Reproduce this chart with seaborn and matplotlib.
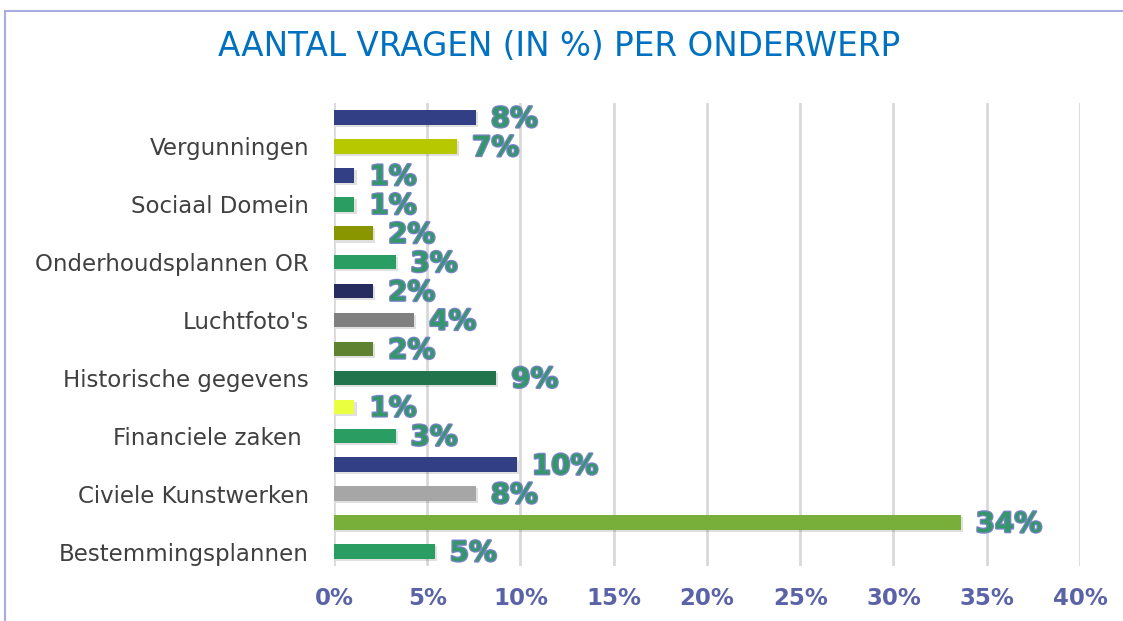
import numpy as np
import pandas as pd
import matplotlib
matplotlib.use("Agg")
import matplotlib.pyplot as plt
import matplotlib.patheffects as pe
from matplotlib.lines import Line2D
import seaborn as sns

# data (fractions, two bars per topic)
categories = ["Vergunningen", "Sociaal Domein", "Onderhoudsplannen OR", "Luchtfoto's",
              "Historische gegevens", "Financiele zaken ", "Civiele Kunstwerken",
              "Bestemmingsplannen"]
upper_vals = [0.076, 0.011, 0.021, 0.021, 0.021, 0.011, 0.098, 0.336]
lower_vals = [0.066, 0.011, 0.033, 0.043, 0.087, 0.033, 0.076, 0.054]
upper_colors = ["#333F84", "#333F84", "#8A9600", "#262B60", "#5E8230", "#EAFF3F", "#333F84", "#78AE3A"]
lower_colors = ["#B8C800", "#2A9D63", "#2A9D63", "#808080", "#21744C", "#2A9D63", "#A6A6A6", "#2A9D63"]
x_ticks = [0, 0.05, 0.10, 0.15, 0.20, 0.25, 0.30, 0.35, 0.40]

rows, vals, cols = [], [], []
for i, c in enumerate(categories):
    rows += [c + " a", c + " b"]
    vals += [upper_vals[i], lower_vals[i]]
    cols += [upper_colors[i], lower_colors[i]]
df = pd.DataFrame({"row": rows, "value": vals})

sns.set_style("white")
fig = plt.figure(figsize=(11.23, 6.21), dpi=100)
ax = fig.add_axes([0.2974, 0.0886, 0.6643, 0.7455])

sns.barplot(data=df, y="row", x="value", hue="row", palette=cols, legend=False,
            width=0.5, orient="h", saturation=1, linewidth=0, edgecolor="none",
            ax=ax, zorder=3)

for p in ax.patches:
    p.set_path_effects([pe.SimplePatchShadow(offset=(1.5, -1.5), alpha=0.12, shadow_rgbFace="k"),
                        pe.Normal()])

for p, v in zip(ax.patches, vals):
    y = p.get_y() + p.get_height() / 2
    t = ax.annotate(f"{int(v * 100 + 0.5)}%", xy=(p.get_width(), y), xytext=(15, -1.5),
                    textcoords="offset pixels", va="center", ha="left",
                    fontsize=20, fontweight="bold", color="#35966C", zorder=4)
    t.set_path_effects([pe.Stroke(linewidth=1.8, foreground="#7A82CA"), pe.Normal()])

ax.set_xlim(0, 0.40)
ax.set_xticks(x_ticks)
ax.set_xticklabels([f"{round(t * 100)}%" for t in x_ticks], fontsize=16.5,
                   fontweight="bold", color="#5B63A8")
ax.set_yticks(np.arange(1, 16, 2))
ax.set_yticklabels(categories, fontsize=16.5, color="#404040")
ax.tick_params(axis="y", length=0, pad=18)
ax.tick_params(axis="x", length=0, pad=15)
ax.set_xlabel("")
ax.set_ylabel("")
ax.xaxis.grid(True, color="#D9D9D9", linewidth=2, zorder=0)
ax.set_axisbelow(True)
sns.despine(ax=ax, left=True, bottom=True)

fig.text(0.498, 0.925, "AANTAL VRAGEN (IN %) PER ONDERWERP", ha="center", va="center",
         fontsize=23.5, color="#0070C0")

# chart frame (top and left edges visible)
fig.add_artist(Line2D([0.0045, 1], [0.982, 0.982], color="#A9ACE0", linewidth=1.5))
fig.add_artist(Line2D([0.0045, 0.0045], [0, 0.982], color="#A9ACE0", linewidth=1.5))

fig.savefig("out.png", dpi=100)
